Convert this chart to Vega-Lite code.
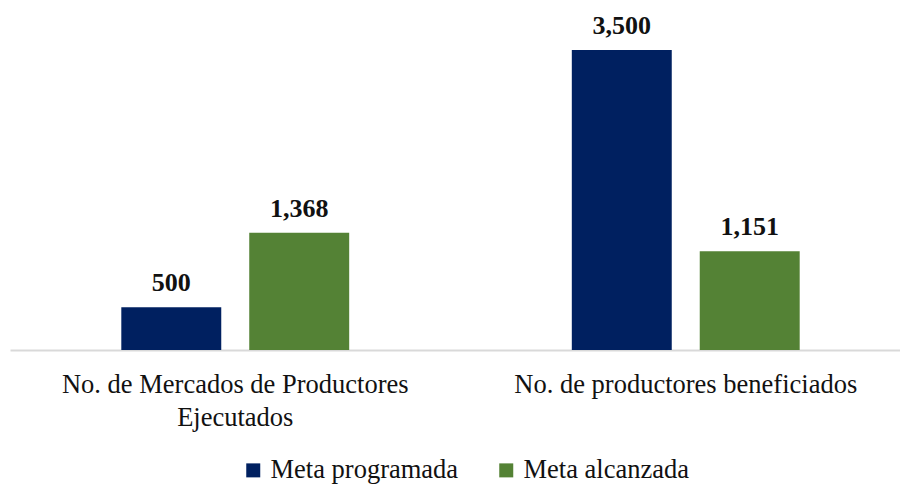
{
  "$schema": "https://vega.github.io/schema/vega-lite/v6.json",
  "width": 890,
  "height": 340,
  "autosize": {"type": "none"},
  "padding": {"left": 10, "top": 10, "right": 0, "bottom": 135},
  "background": "white",
  "data": {
    "values": [
      {"indicador": "No. de Mercados de Productores Ejecutados", "serie": "Meta programada", "valor": 500},
      {"indicador": "No. de Mercados de Productores Ejecutados", "serie": "Meta alcanzada", "valor": 1368},
      {"indicador": "No. de productores beneficiados", "serie": "Meta programada", "valor": 3500},
      {"indicador": "No. de productores beneficiados", "serie": "Meta alcanzada", "valor": 1151}
    ]
  },
  "encoding": {
    "x": {
      "field": "indicador",
      "type": "nominal",
      "sort": null,
      "scale": {"paddingInner": 0, "paddingOuter": 0, "range": [0, 901]},
      "axis": {
        "title": null,
        "labelAngle": 0,
        "ticks": false,
        "domainColor": "#d9d9d9",
        "domainWidth": 2,
        "labelFont": "Liberation Serif",
        "labelFontSize": 26.5,
        "labelColor": "#111111",
        "labelPadding": 21,
        "labelLineHeight": 33,
        "labelLimit": 500,
        "labelExpr": "datum.label == 'No. de Mercados de Productores Ejecutados' ? ['No. de Mercados de Productores', 'Ejecutados'] : datum.label"
      }
    },
    "xOffset": {
      "field": "serie",
      "type": "nominal",
      "sort": ["Meta programada", "Meta alcanzada"],
      "scale": {"paddingInner": 0.21875, "paddingOuter": 0.87}
    },
    "y": {
      "field": "valor",
      "type": "quantitative",
      "scale": {"domain": [0, 3967]},
      "axis": null
    }
  },
  "layer": [
    {
      "mark": {"type": "bar"},
      "encoding": {
        "color": {
          "field": "serie",
          "type": "nominal",
          "sort": ["Meta programada", "Meta alcanzada"],
          "scale": {"domain": ["Meta programada", "Meta alcanzada"], "range": ["#002060", "#548235"]},
          "legend": {
            "title": null,
            "orient": "none",
            "direction": "horizontal",
            "columns": 2,
            "legendX": 230,
            "legendY": 447,
            "padding": 0,
            "symbolType": "square",
            "symbolSize": 196,
            "symbolStrokeWidth": 0,
            "labelFont": "Liberation Serif",
            "labelFontSize": 26.5,
            "labelColor": "#111111",
            "labelOffset": 4,
            "columnPadding": 34,
            "labelLimit": 400
          }
        }
      }
    },
    {
      "mark": {
        "type": "text",
        "font": "Liberation Serif",
        "fontWeight": "bold",
        "fontSize": 26,
        "baseline": "alphabetic",
        "dy": -16,
        "color": "#111111"
      },
      "encoding": {
        "text": {"field": "valor", "type": "quantitative", "format": ",.0f"}
      }
    }
  ],
  "config": {
    "font": "Liberation Serif",
    "view": {"stroke": null},
    "axis": {"labelFont": "Liberation Serif"},
    "legend": {"labelFont": "Liberation Serif"}
  }
}
